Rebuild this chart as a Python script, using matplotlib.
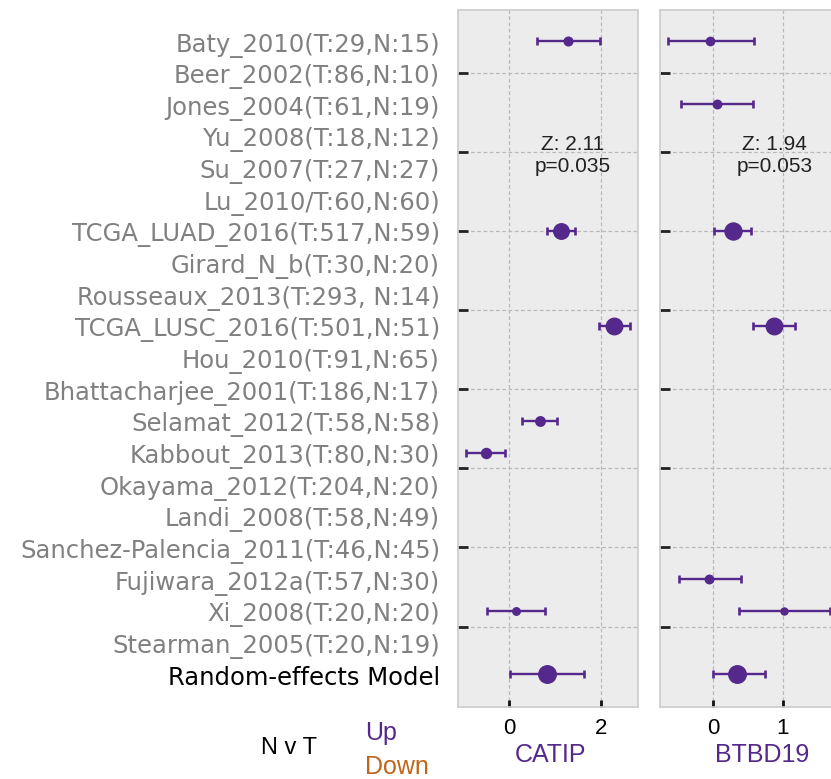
import numpy as np
import matplotlib.pyplot as plt
from matplotlib import transforms

plt.rcParams['font.family'] = ['Liberation Sans', 'DejaVu Sans']

studies = ["Baty_2010(T:29,N:15)", "Beer_2002(T:86,N:10)", "Jones_2004(T:61,N:19)",
           "Yu_2008(T:18,N:12)", "Su_2007(T:27,N:27)", "Lu_2010/T:60,N:60)",
           "TCGA_LUAD_2016(T:517,N:59)", "Girard_N_b(T:30,N:20)",
           "Rousseaux_2013(T:293, N:14)", "TCGA_LUSC_2016(T:501,N:51)",
           "Hou_2010(T:91,N:65)", "Bhattacharjee_2001(T:186,N:17)",
           "Selamat_2012(T:58,N:58)", "Kabbout_2013(T:80,N:30)",
           "Okayama_2012(T:204,N:20)", "Landi_2008(T:58,N:49)",
           "Sanchez-Palencia_2011(T:46,N:45)", "Fujiwara_2012a(T:57,N:30)",
           "Xi_2008(T:20,N:20)", "Stearman_2005(T:20,N:19)", "Random-effects Model"]

nan = np.nan
# CATIP effect sizes (last entry = random-effects summary)
catip_est = [1.28, nan, nan, nan, nan, nan, 1.14, nan, nan, 2.29, nan, nan,
             0.68, -0.51, nan, nan, nan, nan, 0.15, nan, 0.83]
catip_lo = [0.61, nan, nan, nan, nan, nan, 0.84, nan, nan, 1.97, nan, nan,
            0.28, -0.94, nan, nan, nan, nan, -0.47, nan, 0.03]
catip_hi = [1.99, nan, nan, nan, nan, nan, 1.44, nan, nan, 2.64, nan, nan,
            1.05, -0.08, nan, nan, nan, nan, 0.79, nan, 1.63]
# marker diameter (px) ~ study weight
catip_w = [8.7, 0, 0, 0, 0, 0, 15.5, 0, 0, 16.5, 0, 0, 9.5, 10, 0, 0, 0, 0, 7.5, 0, 17.5]

# BTBD19
btbd_est = [-0.04, nan, 0.06, nan, nan, nan, 0.29, nan, nan, 0.88, nan, nan,
            nan, nan, nan, nan, nan, -0.06, 1.02, nan, 0.35]
btbd_lo = [-0.66, nan, -0.47, nan, nan, nan, 0.01, nan, nan, 0.58, nan, nan,
           nan, nan, nan, nan, nan, -0.50, 0.37, nan, -0.01]
btbd_hi = [0.59, nan, 0.57, nan, nan, nan, 0.55, nan, nan, 1.18, nan, nan,
           nan, nan, nan, nan, nan, 0.40, 1.68, nan, 0.74]
btbd_w = [8.3, 0, 8.5, 0, 0, 0, 17, 0, 0, 16.5, 0, 0, 0, 0, 0, 0, 0, 8.5, 7, 0, 17.5]

genes = ["CATIP", "BTBD19"]
z_vals = ["2.11", "1.94"]
p_vals = ["0.035", "0.053"]

purple = "#55288c"
orange = "#c0651c"

fig = plt.figure(figsize=(8.31, 7.79), dpi=100)
W, H = 831, 779
ax1 = fig.add_axes([458 / W, 1 - 707 / H, 180 / W, 697 / H])
ax2 = fig.add_axes([660 / W, 1 - 707 / H, 180 / W, 697 / H])

ypos = np.arange(len(studies))[::-1]

panels = [(ax1, catip_est, catip_lo, catip_hi, catip_w, (-1.114, 2.817), [0, 2], 1.4),
          (ax2, btbd_est, btbd_lo, btbd_hi, btbd_w, (-0.769, 1.83), [0, 1], 0.89)]

for k, (ax, est, lo, hi, w, xl, xt, zx) in enumerate(panels):
    ax.set_facecolor("#ececec")
    for s in ax.spines.values():
        s.set_color("#cccccc")
        s.set_linewidth(1.2)
    est = np.array(est)
    lo = np.array(lo)
    hi = np.array(hi)
    for i in range(len(est)):
        if np.isnan(est[i]):
            continue
        ax.errorbar(est[i], ypos[i], xerr=[[est[i] - lo[i]], [hi[i] - est[i]]],
                    fmt='o', color=purple, ms=w[i] * 0.72, capsize=2.8,
                    elinewidth=1.7, capthick=1.9, zorder=3)
    ax.set_xlim(*xl)
    ax.set_ylim(-1.04, 20.98)
    ax.set_xticks(xt)
    ax.set_yticks(np.arange(1.5, 20, 2.5))
    ax.set_yticklabels([])
    ax.grid(True, color="#bababa", linestyle=(0, (3, 2)), linewidth=0.9)
    ax.set_axisbelow(True)
    ax.tick_params(axis='y', direction='in', length=7, width=2, color="#222222")
    ax.tick_params(axis='x', direction='in', length=5, width=2, color="#111111",
                   labelsize=16, pad=8)
    ax.text(zx, 16.37, "Z: " + z_vals[k] + "\np=" + p_vals[k], ha='center',
            va='center', fontsize=15, color="#222222", linespacing=1.2)

# study labels to the left of the first panel
off = transforms.offset_copy(ax1.get_yaxis_transform(), fig=fig, x=-18, y=-4, units='dots')
for i, name in enumerate(studies):
    col = "black" if i == len(studies) - 1 else "#808080"
    ax1.text(0, ypos[i], name, transform=off, ha='right', va='center',
             fontsize=17.5, color=col, family='DejaVu Sans')

# bottom annotations
fig.text(289 / W, 1 - 748 / H, "N v T", ha='center', va='center', fontsize=17)
fig.text(365 / W, 1 - 733 / H, "Up", ha='left', va='center', fontsize=18, color=purple)
fig.text(365 / W, 1 - 767 / H, "Down", ha='left', va='center', fontsize=18, color=orange)
fig.text(550 / W, 1 - 755 / H, genes[0], ha='center', va='center', fontsize=18, color=purple)
fig.text(762 / W, 1 - 755 / H, genes[1], ha='center', va='center', fontsize=18, color=purple)

fig.savefig("out.png", dpi=100)
